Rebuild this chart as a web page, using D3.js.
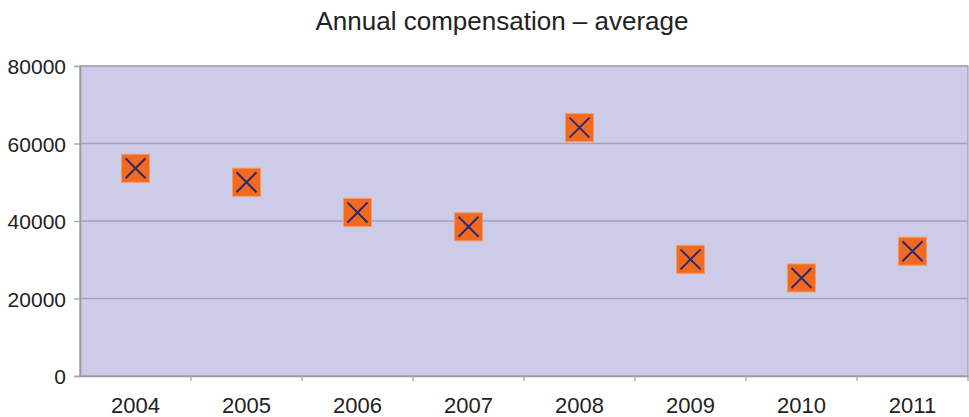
<!DOCTYPE html>
<html><head><meta charset="utf-8">
<script src="https://cdn.jsdelivr.net/npm/d3@7"></script>
<style>body{margin:0;background:#fff}svg{display:block}text{font-family:"Liberation Sans",Arial,sans-serif;fill:#222}</style>
</head><body>
<script>
const title = "Annual compensation – average";
const years = ["2004","2005","2006","2007","2008","2009","2010","2011"];
const values = [53600, 50000, 42200, 38500, 64100, 30100, 25300, 32200];
const yTicks = [0, 20000, 40000, 60000, 80000];

const W = 969, H = 417;
const m = {left: 80, right: 1, top: 66, bottom: 41};
const svg = d3.select("body").append("svg").attr("width", W).attr("height", H);

const x = d3.scaleBand().domain(years).range([m.left, W - m.right]);
const y = d3.scaleLinear().domain([0, 80000]).range([H - m.bottom, m.top]);

svg.append("rect").attr("x", m.left).attr("y", m.top)
  .attr("width", W - m.right - m.left).attr("height", H - m.bottom - m.top)
  .attr("fill", "#cdcce8").attr("stroke", "#9a9aa8").attr("stroke-width", 1.2);

// gridlines
svg.append("g").selectAll("line").data(yTicks.filter(d => d > 0)).join("line")
  .attr("x1", m.left).attr("x2", W - m.right)
  .attr("y1", d => y(d)).attr("y2", d => y(d))
  .attr("stroke", "#a3a2c2").attr("stroke-width", 1.6);

// y axis
const ya = svg.append("g").attr("transform", `translate(${m.left},0)`)
  .call(d3.axisLeft(y).tickValues(yTicks).tickFormat(d3.format("d")).tickSize(6).tickPadding(8));
ya.select(".domain").attr("stroke", "#999").attr("stroke-width", 1.6);
ya.selectAll(".tick line").attr("stroke", "#aaa").attr("stroke-width", 1.4);
ya.selectAll("text").style("font-size", "21px").attr("fill", "#222").attr("dy", "0.36em");

// x axis
const xa = svg.append("g").attr("transform", `translate(0,${H - m.bottom})`)
  .call(d3.axisBottom(x).tickSize(0).tickPadding(21));
xa.select(".domain").attr("stroke", "#999").attr("stroke-width", 1.6);
xa.selectAll("text").style("font-size", "22px").attr("fill", "#222");
// ticks at band boundaries
xa.append("g").selectAll("line").data(years.slice(1).concat(["end"])).join("line")
  .attr("x1", (d, i) => m.left + x.step() * (i + 1)).attr("x2", (d, i) => m.left + x.step() * (i + 1))
  .attr("y1", 0).attr("y2", 5).attr("stroke", "#aaa").attr("stroke-width", 1.4);

// title
svg.append("text").attr("x", 502).attr("y", 30).attr("text-anchor", "middle")
  .style("font-size", "26px").attr("fill", "#1a1a1a").text(title);

// markers
const s = 28, h = s / 2, inset = 4;
const mk = svg.append("g").selectAll("g").data(years.map((yr, i) => ({yr, v: values[i]}))).join("g")
  .attr("transform", d => `translate(${x(d.yr) + x.bandwidth() / 2},${y(d.v)})`);
mk.append("rect").attr("x", -h).attr("y", -h).attr("width", s).attr("height", s)
  .attr("fill", "#f26a22").attr("stroke", "#f59a5e").attr("stroke-width", 1);
mk.append("path").attr("d", `M${-h + inset},${-h + inset}L${h - inset},${h - inset}M${h - inset},${-h + inset}L${-h + inset},${h - inset}`)
  .attr("stroke", "#2d2a6b").attr("stroke-width", 2).attr("fill", "none");
</script>
</body></html>
